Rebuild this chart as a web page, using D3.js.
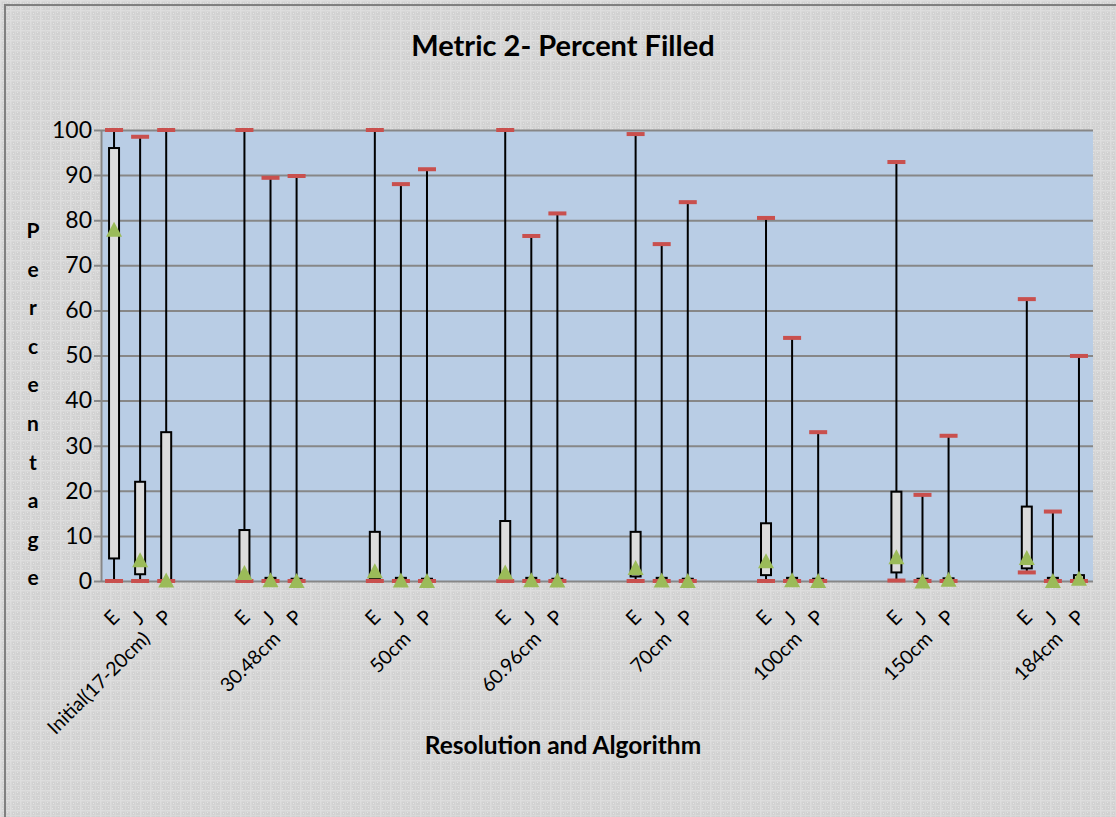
<!DOCTYPE html>
<html>
<head>
<meta charset="utf-8">
<script src="https://cdn.jsdelivr.net/npm/d3@7"></script>
<style>
  html, body { margin: 0; padding: 0; background: #d3d3d3; }
  svg { display: block; }
</style>
</head>
<body>
<svg id="chart" width="1116" height="817"></svg>
<script>
// Resolution groups and algorithms shown in each group
const resolutions = ["Initial(17-20cm)", "30.48cm", "50cm", "60.96cm", "70cm", "100cm", "150cm", "184cm"];
const algorithms = ["E", "J", "P"];

// Percent filled statistics, one [E, J, P] triple per resolution
const maxVals  = [[100, 98.5, 100], [100, 89.4, 89.8], [100, 88.0, 91.3], [100, 76.5, 81.5],
                  [99.1, 74.7, 84.0], [80.5, 53.9, 33.0], [92.9, 19.1, 32.2], [62.5, 15.4, 49.9]];
const q3Vals   = [[96, 22, 33], [11.3, 0.7, 0.5], [10.9, 0.7, 0.5], [13.3, 0.7, 0.5],
                  [10.9, 0.7, 0.5], [12.8, 0.7, 0.5], [19.8, 0.5, 0.6], [16.5, 0.7, 1.3]];
const q1Vals   = [[5, 1.5, 0], [0.2, 0, 0], [0.6, 0, 0], [0.3, 0, 0],
                  [1.0, 0, 0], [1.3, 0, 0], [1.9, 0, 0], [2.8, 0, 0]];
const minVals  = [[0, 0, 0], [0, 0, 0], [0, 0, 0], [0, 0, 0],
                  [0, 0, 0], [0, 0, 0], [0.1, 0, 0], [1.9, 0, 0]];
const meanVals = [[78, 4.7, 0.2], [1.9, 0.3, 0.1], [2.3, 0.2, 0.1], [2.0, 0.3, 0.2],
                  [3.0, 0.2, 0.1], [4.5, 0.3, 0.1], [5.4, 0.0, 0.4], [5.2, 0.1, 0.6]];

const yTicks = [0, 10, 20, 30, 40, 50, 60, 70, 80, 90, 100];
const titleText = "Metric 2- Percent Filled";
const xTitleText = "Resolution and Algorithm";
const yTitleText = "Percentage";

const W = 1116, H = 817;
const plot = { left: 101, right: 1093, top: 130, bottom: 581 };
const FONT = "Lato, 'Open Sans', sans-serif";

const svg = d3.select("#chart");

// Textured grey chart background
const defs = svg.append("defs");
const pat = defs.append("pattern")
  .attr("id", "weave").attr("patternUnits", "userSpaceOnUse")
  .attr("width", 10).attr("height", 10);
pat.append("rect").attr("width", 10).attr("height", 10).attr("fill", "#d1d1d1");
pat.append("rect").attr("x", 0).attr("y", 0).attr("width", 10).attr("height", 1.5).attr("fill", "#dddddd");
pat.append("rect").attr("x", 0).attr("y", 0).attr("width", 1.5).attr("height", 10).attr("fill", "#dddddd");
pat.append("rect").attr("x", 0).attr("y", 5).attr("width", 10).attr("height", 1).attr("fill", "#d9d9d9");
pat.append("rect").attr("x", 5).attr("y", 0).attr("width", 1).attr("height", 10).attr("fill", "#d9d9d9");
[[3, 3], [7, 2], [2, 8], [8, 7]].forEach(([px, py]) =>
  pat.append("rect").attr("x", px).attr("y", py).attr("width", 1).attr("height", 1).attr("fill", "#e5e5e5"));

svg.append("rect").attr("width", W).attr("height", H).attr("fill", "url(#weave)");
svg.append("path")
  .attr("d", `M5,${H} V5 H${W}`)
  .attr("fill", "none").attr("stroke", "#7f7f7f").attr("stroke-width", 2);

// Scales: each group holds E, J, P plus two empty slots as spacing
const slots = [];
resolutions.forEach((r, i) => {
  algorithms.forEach(a => slots.push(`${i}|${a}`));
  if (i < resolutions.length - 1) { slots.push(`${i}|s1`); slots.push(`${i}|s2`); }
});
const x = d3.scaleBand().domain(slots).range([plot.left, plot.right - 1]).padding(0);
const y = d3.scaleLinear().domain([0, 100]).range([plot.bottom, plot.top]);
const cx = key => x(key) + x.bandwidth() / 2;

// Plot area
svg.append("rect")
  .attr("x", plot.left).attr("y", plot.top)
  .attr("width", plot.right - plot.left).attr("height", plot.bottom - plot.top)
  .attr("fill", "#b9cde5");

// Y axis with full-width gridlines
const yAxis = svg.append("g")
  .attr("transform", `translate(${plot.left},0)`)
  .call(d3.axisLeft(y).tickValues(yTicks).tickSize(-(plot.right - plot.left)).tickSizeOuter(0).tickPadding(9));
yAxis.select(".domain").attr("stroke", "#878787").attr("stroke-width", 2);
yAxis.selectAll(".tick line").attr("x1", -7).attr("stroke", "#878787").attr("stroke-width", 2);
yAxis.selectAll(".tick text")
  .attr("font-family", FONT).attr("font-size", 23).attr("fill", "#000");

// Flatten statistics for drawing
const rows = [];
resolutions.forEach((r, i) => algorithms.forEach((a, j) => rows.push({
  key: `${i}|${a}`, max: maxVals[i][j], q3: q3Vals[i][j], q1: q1Vals[i][j],
  min: minVals[i][j], mean: meanVals[i][j]
})));

const marks = svg.append("g");
// High-low whiskers
marks.selectAll("line.whisker").data(rows).join("line")
  .attr("class", "whisker")
  .attr("x1", d => cx(d.key)).attr("x2", d => cx(d.key))
  .attr("y1", d => y(d.max)).attr("y2", d => y(d.min))
  .attr("stroke", "#000").attr("stroke-width", 2);
// Interquartile boxes
const boxW = 10;
marks.selectAll("rect.box").data(rows).join("rect")
  .attr("class", "box")
  .attr("x", d => cx(d.key) - boxW / 2)
  .attr("y", d => y(d.q3))
  .attr("width", boxW)
  .attr("height", d => Math.max(0, y(d.q1) - y(d.q3)))
  .attr("fill", "#dcdcdc").attr("stroke", "#000").attr("stroke-width", 2);
// Max and min dashes
const dashW = 18, dashH = 4;
["max", "min"].forEach(s => {
  marks.selectAll(`rect.dash-${s}`).data(rows).join("rect")
    .attr("class", `dash-${s}`)
    .attr("x", d => cx(d.key) - dashW / 2)
    .attr("y", d => y(d[s]) - dashH / 2)
    .attr("width", dashW).attr("height", dashH)
    .attr("fill", "#c9504e");
});
// Mean triangles
const triW = 16, triH = 15;
marks.selectAll("path.mean").data(rows).join("path")
  .attr("class", "mean")
  .attr("d", d => {
    const px = cx(d.key), py = y(d.mean);
    return `M${px},${py - triH / 2} L${px + triW / 2},${py + triH / 2} L${px - triW / 2},${py + triH / 2} Z`;
  })
  .attr("fill", "#9bbb59");

// Category labels: algorithm letters and resolution names
const labels = svg.append("g").attr("font-family", FONT).attr("fill", "#000");
labels.selectAll("text.alg").data(rows).join("text")
  .attr("class", "alg")
  .attr("transform", d => `translate(${cx(d.key) - 3},${617}) rotate(-45)`)
  .attr("text-anchor", "middle").attr("dominant-baseline", "central")
  .attr("font-size", 20)
  .text(d => d.key.split("|")[1]);
labels.selectAll("text.res").data(resolutions).join("text")
  .attr("class", "res")
  .attr("transform", (d, i) => `translate(${cx(`${i}|J`) + 11},${640}) rotate(-45)`)
  .attr("text-anchor", "end")
  .attr("font-size", 19.5)
  .text(d => d);

// Titles
svg.append("text")
  .attr("x", 563).attr("y", 56)
  .attr("text-anchor", "middle")
  .attr("font-family", FONT).attr("font-weight", "bold").attr("font-size", 29)
  .text(titleText);
svg.append("text")
  .attr("x", 563).attr("y", 754)
  .attr("text-anchor", "middle")
  .attr("font-family", FONT).attr("font-weight", "bold").attr("font-size", 24.5)
  .text(xTitleText);
svg.append("g")
  .attr("font-family", FONT).attr("font-weight", "bold").attr("font-size", 21)
  .selectAll("text").data(yTitleText.split("")).join("text")
  .attr("x", 33)
  .attr("y", (d, i) => 238 + i * 38.6)
  .attr("text-anchor", "middle")
  .text(d => d);
</script>
</body>
</html>
